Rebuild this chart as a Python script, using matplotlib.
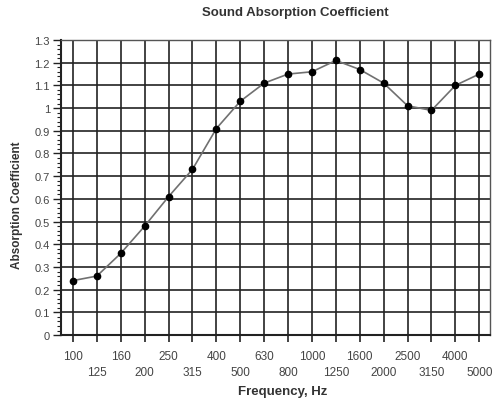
import numpy as np
import matplotlib.pyplot as plt
from matplotlib.ticker import MultipleLocator

freqs = ["100", "125", "160", "200", "250", "315", "400", "500", "630", "800",
         "1000", "1250", "1600", "2000", "2500", "3150", "4000", "5000"]
alpha = [0.24, 0.26, 0.36, 0.48, 0.61, 0.73, 0.91, 1.03, 1.11, 1.15,
         1.16, 1.21, 1.17, 1.11, 1.01, 0.99, 1.10, 1.15]

plt.rcParams['font.family'] = ['Liberation Sans', 'DejaVu Sans']

fig = plt.figure(figsize=(4.96, 4.02), dpi=100)
ax = fig.add_axes([0.123, 0.164, 0.865, 0.734])

x = np.arange(len(freqs))
ax.plot(x, alpha, color="#707070", lw=1.2, zorder=3)
ax.plot(x, alpha, "o", color="black", ms=4.5, zorder=4)

ax.set_xlim(-0.5, 17.45)
ax.set_ylim(0, 1.3)

# alternating two-row frequency labels
labels = [f if i % 2 == 0 else "\n" + f for i, f in enumerate(freqs)]
ax.set_xticks(x)
ax.set_xticklabels(labels, fontsize=8.5, color="#444444", linespacing=1.4)
ax.set_yticks(np.round(np.arange(0, 1.31, 0.1), 1))
ax.set_yticklabels(["0"] + [f"{v:.1f}" for v in np.arange(0.1, 0.95, 0.1)] + ["1", "1.1", "1.2", "1.3"],
                   fontsize=8, color="#444444")
ax.yaxis.set_minor_locator(MultipleLocator(0.02))
ax.tick_params(axis="x", direction="out", length=5, width=1.2, color="#222222", pad=6)
ax.tick_params(axis="y", which="major", direction="out", length=6, width=1.0, color="#222222", pad=2)
ax.tick_params(axis="y", which="minor", direction="out", length=3, width=0.8, color="#222222")

ax.grid(True, which="major", color="#222222", lw=1.2)
ax.set_axisbelow(True)
for s in ax.spines.values():
    s.set_color("#555555")
    s.set_linewidth(1.0)
ax.spines["bottom"].set_color("#222222")
ax.spines["bottom"].set_linewidth(1.5)
ax.spines["left"].set_color("#222222")
ax.spines["left"].set_linewidth(1.5)

fig.text(0.595, 0.967, "Sound Absorption Coefficient", ha="center", va="center",
         fontsize=9.5, fontweight="bold", color="#333333")
fig.text(0.57, 0.025, "Frequency, Hz", ha="center", va="center",
         fontsize=9.5, fontweight="bold", color="#333333")
fig.text(0.035, 0.49, "Absorption Coefficient", ha="center", va="center", rotation=90,
         fontsize=8.5, fontweight="bold", color="#333333")

fig.savefig("out.png", dpi=100)
